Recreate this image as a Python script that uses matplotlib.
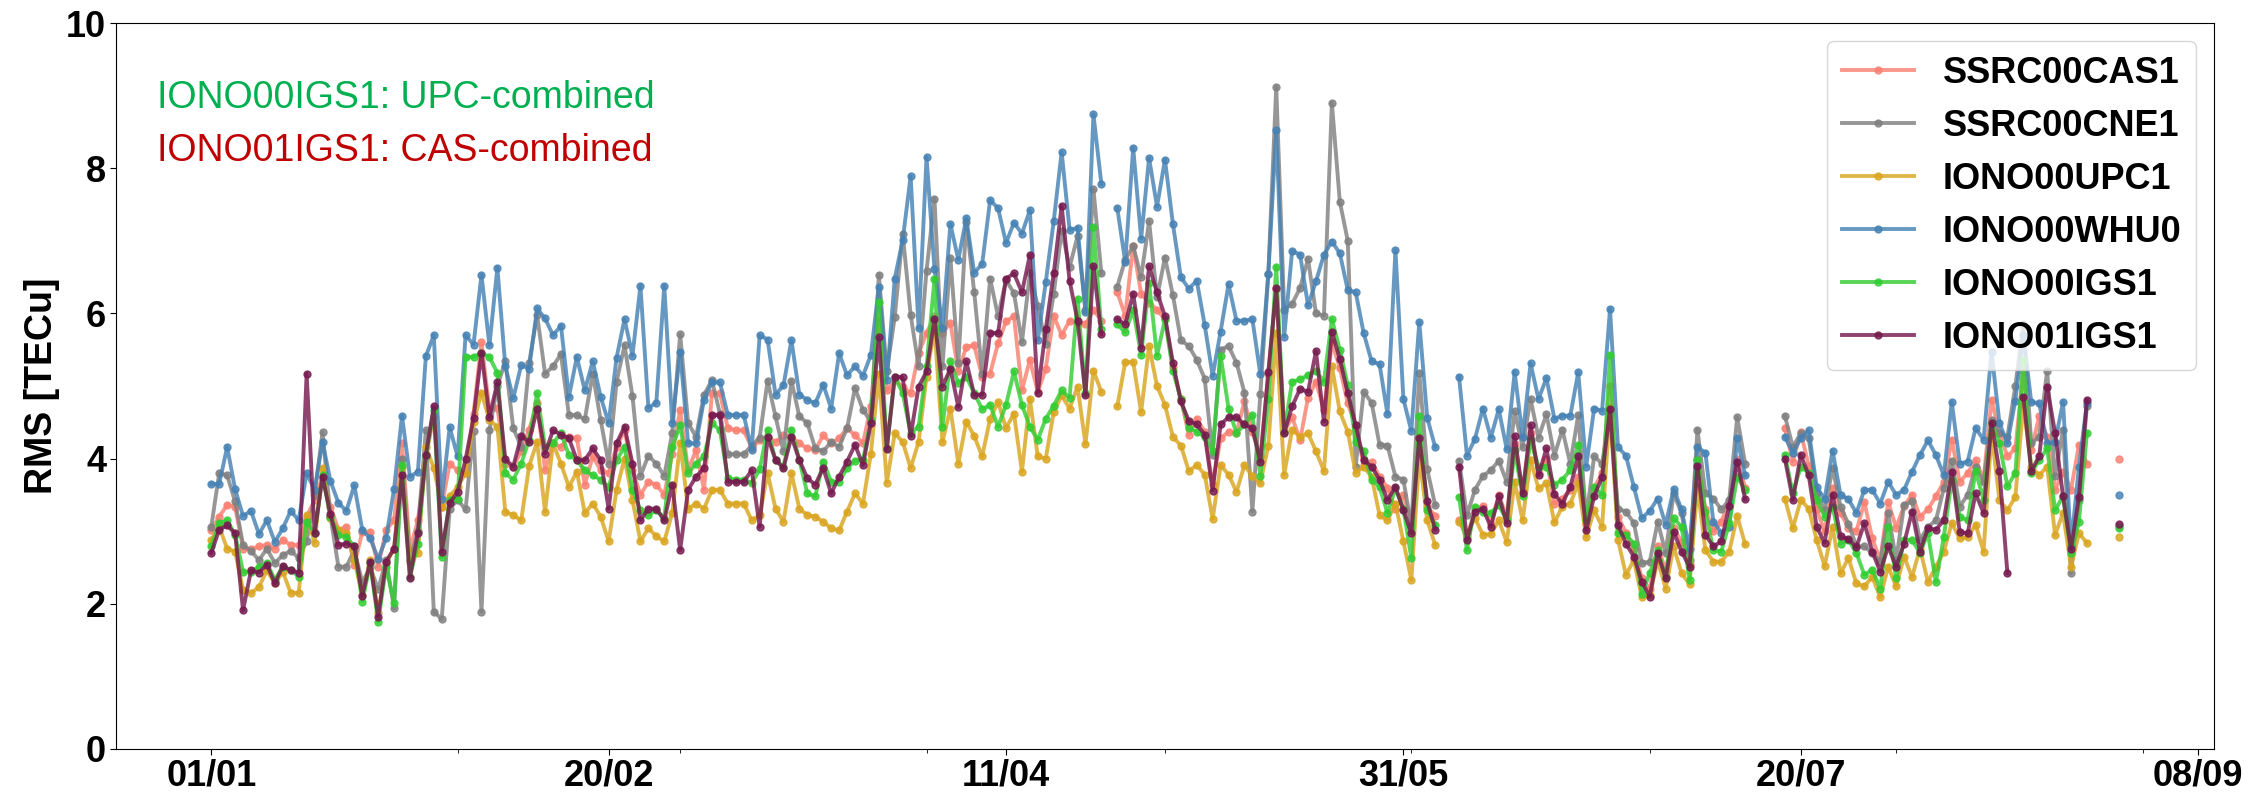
import numpy as np
import pandas as pd
import matplotlib
matplotlib.use("Agg")
import matplotlib.pyplot as plt
import matplotlib.dates as mdates

nan = np.nan

# daily RMS values, 01/01 .. 29/08 (241 days)
dates = pd.date_range("2023-01-01", periods=241, freq="D")

ssrc00cas1 = [
    3.02, 3.20, 3.36, 3.34, 2.76, 2.75, 2.79, 2.81, 2.76, 2.88, 2.81, 2.81, 3.20, 3.43, 3.75, 3.34, 3.02,
    3.06, 2.53, 2.99, 2.99, 2.51, 3.02, 3.15, 4.21, 2.74, 3.15, 4.03, 4.58, 3.34, 3.93, 3.84, 3.80, 4.62,
    5.60, 4.67, 4.70, 3.93, 3.89, 4.10, 4.40, 4.76, 3.84, 4.21, 4.16, 4.30, 4.28, 3.64, 4.03, 3.84, 3.80,
    4.16, 4.39, 3.84, 3.50, 3.68, 3.64, 3.50, 4.07, 4.67, 3.84, 4.12, 3.57, 4.90, 4.90, 4.42, 4.39, 4.39,
    4.15, 4.25,
    4.30, 4.23, 4.32, 4.30, 4.21, 4.14, 4.12, 4.32, 4.21, 4.28, 4.42, 4.32, 4.21, 4.72, 5.90, 4.94, 5.08,
    4.99, 4.90, 5.45, 5.73, 5.96, 5.73, 5.87, 5.20, 5.54, 5.56, 5.13, 5.17, 5.59, 5.89, 5.96, 4.94, 5.36,
    4.92,
    5.24, 5.97, 5.70, 5.90, 5.87, 5.85, 6.05, 5.90, nan, 6.29, 5.97, 6.93, 6.27, 6.15, 6.05, 5.92, 5.26,
    4.82, 4.33, 4.55, 4.37, 3.64, 4.28, 4.37, 4.35, 4.79, 4.37, 4.03, 5.16, 6.34, 4.37, 4.57, 4.25, 4.84,
    5.06, 4.67,
    5.60, 5.25, 4.76, 4.45, 3.91, 3.96, 3.75, 3.60, 3.30, 3.50, 3.10, 4.30, 3.34, 3.21, nan, nan, 3.15,
    2.90, 3.30, 3.35, 3.10, 3.50, 3.20, 4.20, 3.55, 4.35, 3.80, 4.00, 3.38, 3.45, 3.57, 3.75, 3.10, 3.60,
    3.80,
    5.00, 3.20, 2.98, 2.75, 2.35, 2.20, 2.80, 2.45, 3.05, 2.85, 2.55, 4.00, 3.30, 3.00, 3.13, 3.40, 4.00,
    3.60, nan, nan, nan, nan, 4.42, 3.96, 4.36, 3.90, 3.30, 3.00, 3.60, 3.25, 3.05, 3.00, 3.40, 2.90, 2.60,
    3.40, 3.05, 3.35, 3.50, 3.20, 3.30, 3.48, 3.68, 4.26, 3.68, 3.80, 3.98, 3.71, 4.81, 4.35, 4.03, 4.14,
    5.20, 4.12, 4.58, 4.30, 3.57, 3.82, 3.57, 4.19, 3.93, nan, nan, nan, 4.00,
]

ssrc00cne1 = [
    3.06, 3.80, 3.77, 3.41, 2.81, 2.73, 2.60, 2.76, 2.56, 2.67, 2.73, 2.63, 2.86, 3.50, 4.36, 3.20, 2.51,
    2.51, 2.74, 2.30, 2.50, 2.20, 2.60, 1.94, 4.00, 2.60, 3.00, 4.39, 1.89, 1.79, 3.31, 3.43, 3.30, 4.38,
    1.89, 4.39, 5.00, 5.34, 4.42, 4.16, 5.32, 5.98, 5.17, 5.27, 5.44, 4.60, 4.60, 4.54, 5.17, 4.53, 3.93,
    5.06, 5.56, 4.86, 3.76, 4.04, 3.93, 3.76, 4.35, 5.71, 4.49, 4.30, 4.88, 5.08, 4.62, 4.06, 4.06, 4.06,
    4.18, 4.29,
    5.07, 4.58, 4.10, 5.07, 4.58, 4.49, 4.14, 4.10, 4.23, 4.16, 4.42, 4.97, 4.67, 4.51, 6.53, 5.20, 5.95,
    7.10, 5.98, 5.27, 6.59, 7.58, 5.27, 6.76, 5.31, 7.26, 6.29, 5.17, 6.48, 5.96, 6.46, 6.28, 5.60, 6.55,
    6.10,
    5.58, 6.27, 7.14, 6.64, 7.06, 6.05, 7.71, 6.55, nan, 6.37, 6.74, 6.93, 6.50, 7.27, 6.22, 6.77, 6.25,
    5.63, 5.55, 5.36, 5.10, 4.05, 5.50, 5.55, 5.32, 4.91, 3.27, 4.89, 6.54, 9.12, 6.05, 6.13, 6.35, 6.75,
    6.00, 5.97,
    8.90, 7.54, 7.00, 3.89, 4.92, 4.77, 4.19, 4.18, 3.75, 3.71, 3.06, 5.18, 3.85, 3.36, nan, nan, 3.97,
    3.22, 3.57, 3.76, 3.84, 3.97, 3.68, 4.65, 4.16, 4.82, 4.29, 4.61, 4.04, 4.40, 3.93, 4.60, 3.18, 4.03,
    3.93,
    4.60, 3.31, 3.27, 3.11, 2.56, 2.58, 3.13, 2.70, 3.52, 3.25, 2.60, 4.40, 3.52, 3.45, 3.30, 3.43, 4.57,
    3.93, nan, nan, nan, nan, 4.59, 4.16, 4.35, 4.28, 3.52, 3.29, 3.87, 3.34, 3.10, 2.79, 2.79, 2.70, 2.58,
    3.25, 2.60, 3.36, 3.41, 2.88, 3.06, 3.15, 3.59, 3.97, 3.34, 3.50, 3.89, 3.68, 4.53, 4.35, 4.30, 5.00,
    5.85, 4.21, 4.30, 5.21, 3.76, 4.40, 2.42, 3.43, 4.72, nan, nan, nan, 3.07,
]

iono00upc1 = [
    2.88, 3.06, 2.76, 2.72, 2.19, 2.15, 2.23, 2.46, 2.28, 2.44, 2.15, 2.15, 3.22, 2.84, 3.87, 3.18, 3.02,
    2.97, 2.60, 2.12, 2.60, 1.87, 2.56, 2.76, 3.89, 2.58, 2.70, 4.16, 3.87, 3.34, 3.48, 3.61, 3.80, 4.50,
    4.91, 4.53, 4.44, 3.27, 3.22, 3.15, 3.90, 4.23, 3.27, 4.21, 3.93, 3.61, 3.82, 3.25, 3.38, 3.20, 2.86,
    3.57, 4.00, 3.43, 2.86, 3.04, 2.93, 2.86, 3.25, 4.21, 3.31, 3.38, 3.31, 3.57, 3.57, 3.38, 3.38, 3.38,
    3.15, 3.22,
    3.80, 3.31, 3.13, 3.80, 3.31, 3.22, 3.20, 3.13, 3.04, 3.01, 3.27, 3.52, 3.38, 4.07, 5.17, 3.67, 4.35,
    4.23, 3.87, 4.23, 5.13, 5.80, 4.23, 4.69, 3.93, 4.51, 4.31, 4.03, 4.55, 4.78, 4.42, 4.62, 3.82, 4.82,
    4.03,
    4.00, 4.64, 4.87, 4.69, 4.99, 4.20, 5.21, 4.92, nan, 4.72, 5.33, 5.33, 4.64, 5.55, 5.00, 4.74, 4.30,
    4.18, 3.83, 3.91, 3.78, 3.17, 3.91, 3.78, 3.54, 3.91, 3.76, 3.66, 4.18, 5.73, 3.78, 4.40, 4.30, 4.35,
    4.10, 3.83,
    5.27, 4.65, 4.37, 3.80, 3.89, 3.75, 3.22, 3.15, 3.38, 2.86, 2.33, 4.03, 3.15, 2.81, nan, nan, 3.13,
    2.97, 3.18, 2.95, 2.96, 3.15, 2.85, 3.68, 3.15, 3.98, 3.59, 3.66, 3.12, 3.34, 3.38, 3.66, 2.92, 3.29,
    3.06,
    4.70, 2.88, 2.40, 2.60, 2.09, 2.12, 2.60, 2.21, 2.79, 2.42, 2.27, 3.61, 2.74, 2.58, 2.58, 2.72, 3.21,
    2.82, nan, nan, nan, nan, 3.45, 3.04, 3.43, 3.31, 2.88, 2.52, 3.06, 2.42, 2.63, 2.28, 2.24, 2.37, 2.09,
    2.51, 2.24, 2.65, 2.37, 2.76, 2.30, 2.51, 2.72, 3.11, 2.90, 2.92, 3.09, 2.72, 4.35, 3.43, 3.29, 3.47,
    4.75, 3.89, 3.77, 3.89, 2.95, 3.25, 2.51, 2.97, 2.84, nan, nan, nan, 2.92,
]

iono00whu0 = [
    3.65, 3.65, 4.16, 3.58, 3.21, 3.28, 2.96, 3.15, 2.85, 3.04, 3.28, 3.15, 3.80, 3.57, 4.23, 3.69, 3.39,
    3.28, 3.63, 3.02, 2.90, 2.62, 2.90, 3.58, 4.59, 3.75, 3.82, 5.41, 5.70, 3.45, 4.43, 4.03, 5.70, 5.57,
    6.53, 5.56, 6.63, 5.27, 4.83, 5.29, 5.24, 6.07, 5.93, 5.70, 5.83, 4.85, 5.40, 4.94, 5.34, 4.85, 4.49,
    5.39, 5.92, 5.42, 6.38, 4.70, 4.77, 6.38, 4.49, 5.47, 4.21, 4.21, 4.81, 5.05, 5.05, 4.60, 4.60, 4.60,
    4.12, 5.70,
    5.64, 4.88, 5.01, 5.63, 4.88, 4.81, 4.76, 5.02, 4.69, 5.45, 5.15, 5.27, 5.14, 5.43, 6.37, 5.08, 6.48,
    7.01, 7.89, 5.80, 8.15, 6.61, 5.80, 7.23, 6.74, 7.31, 6.56, 6.68, 7.56, 7.45, 6.97, 7.25, 7.10, 7.42,
    5.63,
    6.43, 7.27, 8.22, 7.15, 7.18, 6.02, 8.74, 7.78, nan, 7.45, 6.71, 8.28, 7.03, 8.14, 7.47, 8.12, 7.23,
    6.50, 6.34, 6.45, 5.84, 5.14, 5.75, 6.40, 5.90, 5.90, 5.92, 5.16, 6.54, 8.52, 5.68, 6.86, 6.81, 6.11,
    6.44, 6.81,
    6.99, 6.83, 6.32, 6.29, 5.73, 5.34, 5.30, 4.61, 6.87, 4.82, 4.38, 5.88, 4.56, 4.16, nan, nan, 5.13,
    4.04, 4.27, 4.69, 4.29, 4.68, 4.13, 5.19, 4.30, 5.31, 4.82, 5.11, 4.55, 4.59, 4.59, 5.19, 3.89, 4.69,
    4.66,
    6.06, 4.16, 4.04, 3.61, 3.18, 3.28, 3.45, 3.09, 3.58, 3.30, 2.75, 4.16, 4.08, 3.13, 2.98, 3.06, 4.28,
    3.77, nan, nan, nan, nan, 4.30, 4.08, 4.28, 4.39, 3.61, 3.44, 4.11, 3.50, 3.44, 3.25, 3.57, 3.57, 3.38,
    3.68, 3.50, 3.57, 3.82, 4.05, 4.25, 4.05, 3.77, 4.78, 3.93, 3.96, 4.42, 4.26, 5.47, 4.49, 4.21, 4.80,
    5.70, 4.78, 4.76, 4.21, 4.23, 4.78, 2.80, 3.89, 4.76, nan, nan, nan, 3.50,
]

iono00igs1 = [
    2.79, 3.11, 3.15, 2.95, 2.44, 2.44, 2.51, 2.56, 2.33, 2.51, 2.47, 2.37, 3.13, 2.97, 3.77, 3.20, 2.95,
    2.92, 2.79, 2.03, 2.56, 1.75, 2.51, 2.01, 3.91, 2.37, 2.83, 4.03, 4.67, 2.64, 3.43, 3.45, 5.40, 5.40,
    5.45, 5.40, 5.18, 3.80, 3.71, 3.93, 4.26, 4.90, 4.16, 4.21, 4.35, 4.05, 3.98, 3.84, 3.77, 3.71, 3.61,
    3.98, 4.16, 3.57, 3.29, 3.22, 3.29, 3.18, 4.16, 4.46, 3.80, 3.93, 4.03, 4.49, 4.39, 3.73, 3.71, 3.71,
    3.66, 3.85,
    4.40, 3.98, 3.89, 4.40, 3.98, 3.52, 3.48, 3.96, 3.68, 3.68, 3.87, 3.97, 3.98, 4.53, 6.16, 4.14, 5.13,
    4.90, 4.35, 4.44, 5.27, 6.48, 4.44, 5.34, 5.04, 5.13, 4.90, 4.68, 4.74, 4.44, 4.74, 5.20, 4.74, 4.44,
    4.26,
    4.55, 4.73, 4.94, 4.84, 6.20, 4.90, 7.19, 5.78, nan, 5.85, 5.74, 6.05, 5.43, 6.42, 5.42, 5.92, 5.21,
    4.82, 4.42, 4.37, 4.30, 4.10, 5.42, 4.69, 4.35, 4.47, 4.60, 3.76, 4.82, 6.64, 4.37, 5.06, 5.09, 5.15,
    5.21, 5.06,
    5.92, 5.50, 5.01, 4.23, 4.11, 3.71, 3.61, 3.25, 3.59, 3.31, 2.63, 4.59, 3.29, 3.09, nan, nan, 3.47,
    2.74, 3.34, 3.27, 3.25, 3.36, 3.15, 4.12, 3.48, 4.26, 3.89, 3.89, 3.64, 3.71, 3.84, 4.19, 3.15, 3.61,
    3.50,
    5.43, 2.97, 2.95, 2.83, 2.14, 2.42, 2.74, 2.37, 3.18, 3.06, 2.33, 3.98, 3.27, 2.74, 2.72, 3.11, 3.75,
    3.57, nan, nan, nan, nan, 4.05, 3.52, 3.89, 3.80, 3.43, 3.20, 3.34, 2.83, 2.88, 2.70, 2.40, 2.47, 2.21,
    3.06, 2.35, 2.88, 2.88, 2.70, 2.97, 2.30, 2.92, 3.71, 3.20, 3.15, 3.83, 3.43, 4.49, 4.21, 3.62, 3.80,
    5.36, 3.80, 3.98, 4.14, 3.29, 3.48, 2.70, 3.13, 4.35, nan, nan, nan, 3.04,
]

iono01igs1 = [
    2.70, 3.02, 3.08, 2.97, 1.91, 2.46, 2.43, 2.54, 2.28, 2.52, 2.46, 2.43, 5.17, 2.97, 3.75, 3.23, 2.81,
    2.83, 2.79, 2.11, 2.58, 1.82, 2.58, 2.76, 3.78, 2.36, 2.98, 4.05, 4.72, 2.71, 3.39, 3.54, 3.99, 4.56,
    5.46, 4.57, 5.05, 3.99, 3.89, 4.31, 4.23, 4.69, 4.07, 4.39, 4.33, 4.28, 3.98, 3.98, 4.14, 3.98, 3.31,
    4.21, 4.44, 3.93, 3.15, 3.31, 3.31, 3.15, 3.64, 2.74, 3.57, 3.75, 3.87, 4.60, 4.60, 3.68, 3.68, 3.68,
    3.84, 3.06,
    4.30, 3.98, 3.87, 4.30, 3.98, 3.73, 3.64, 3.87, 3.52, 3.75, 3.96, 4.19, 3.91, 4.49, 5.67, 4.13, 5.13,
    5.12, 4.31, 4.99, 5.20, 5.92, 4.99, 5.24, 4.71, 5.34, 4.88, 4.88, 5.73, 5.73, 6.48, 6.55, 6.29, 6.80,
    4.91,
    5.78, 6.55, 7.48, 6.45, 5.90, 4.87, 6.65, 5.71, nan, 5.92, 5.85, 6.27, 5.53, 6.65, 6.29, 5.96, 5.32,
    4.79, 4.52, 4.47, 4.33, 3.56, 4.47, 4.57, 4.57, 4.47, 4.42, 3.96, 5.19, 6.35, 4.35, 4.72, 4.96, 4.92,
    5.48, 4.51,
    5.75, 5.37, 4.90, 4.46, 3.98, 3.89, 3.71, 3.43, 3.61, 3.29, 2.97, 4.29, 3.41, 3.02, nan, nan, 3.89,
    2.88, 3.27, 3.31, 3.06, 3.48, 3.11, 4.31, 3.52, 4.46, 3.77, 4.14, 3.51, 3.38, 3.61, 4.03, 3.01, 3.48,
    3.75,
    4.69, 3.09, 2.83, 2.65, 2.30, 2.10, 2.70, 2.35, 2.99, 2.72, 2.51, 3.90, 2.95, 2.79, 2.86, 3.35, 3.96,
    3.44, nan, nan, nan, nan, 4.00, 3.43, 4.05, 3.77, 3.06, 2.84, 3.50, 2.93, 2.89, 2.78, 3.11, 2.72, 2.44,
    2.79, 2.51, 2.83, 3.27, 2.72, 3.04, 3.02, 3.15, 3.82, 2.99, 2.97, 3.52, 3.25, 4.49, 3.83, 2.42, nan,
    4.85, 3.83, 4.03, 4.99, 4.35, 3.48, 2.75, 3.47, 4.81, nan, nan, nan, 3.10,
]

names = ["SSRC00CAS1", "SSRC00CNE1", "IONO00UPC1", "IONO00WHU0", "IONO00IGS1", "IONO01IGS1"]
series = [ssrc00cas1, ssrc00cne1, iono00upc1, iono00whu0, iono00igs1, iono01igs1]
colors = ["salmon", "gray", "goldenrod", "steelblue", "limegreen", "#761a4f"]

plt.rcParams["font.family"] = ["Liberation Sans", "DejaVu Sans"]

fig = plt.figure(figsize=(22.59, 7.94), dpi=100)
ax = fig.add_axes([0.0513, 0.0567, 0.9288, 0.9143])

for name, vals, c in zip(names, series, colors):
    ax.plot(dates, vals, "-o", color=c, lw=2.8, ms=5, alpha=0.82, label=name)

ax.set_ylim(0, 10)
ax.set_yticks([0, 2, 4, 6, 8, 10])
ax.set_ylabel("RMS [TECu]", fontsize=27, fontweight="bold")

ax.set_xticks(pd.date_range("2023-01-01", periods=6, freq="50D"))
ax.xaxis.set_minor_locator(mdates.MonthLocator())
ax.xaxis.set_major_formatter(mdates.DateFormatter("%d/%m"))
ax.tick_params(axis="both", which="major", labelsize=26, length=4, pad=3)
ax.tick_params(axis="x", which="minor", length=3)
for lab in ax.get_xticklabels() + ax.get_yticklabels():
    lab.set_fontweight("bold")

ax.text(0.0195, 0.897, "IONO00IGS1: UPC-combined", color="#00B050", fontsize=27,
        transform=ax.transAxes, va="center")
ax.text(0.0195, 0.824, "IONO01IGS1: CAS-combined", color="#C00000", fontsize=27,
        transform=ax.transAxes, va="center")

ax.legend(loc="upper right", prop={"size": 26, "weight": "bold"})

plt.savefig("out.png", dpi=100)
